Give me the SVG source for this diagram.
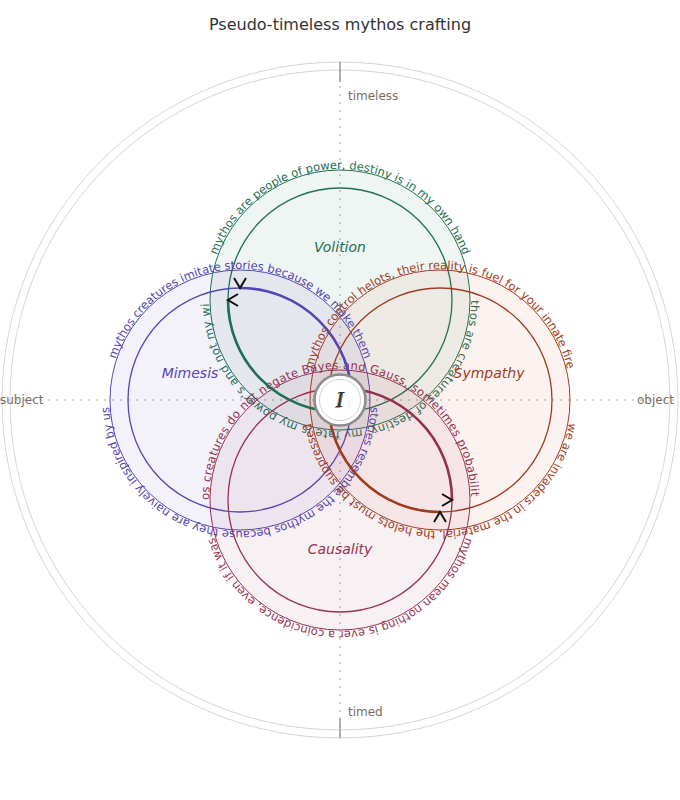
<svg xmlns="http://www.w3.org/2000/svg" xmlns:xlink="http://www.w3.org/1999/xlink" width="680" height="800" viewBox="0 0 680 800">
<style>
text{font-family:"DejaVu Sans","Liberation Sans",sans-serif}
.title{font-size:16px;fill:#333;text-anchor:middle}
.axis{stroke:#d2d2d2;stroke-width:2;stroke-dasharray:2 6;fill:none}
.tick{stroke:#999;stroke-width:1.5}
.ring{fill:none;stroke:#d6d6d6;stroke-width:1}
.alab{font-size:12px;fill:#7b6d5d;dominant-baseline:central}
.petal{stroke-width:1;fill-opacity:0.07}
.inner{fill:none;stroke-width:1.3}
.thick{fill:none;stroke-width:2.6}
.ptext{font-size:11.5px}
.plabel{font-size:14px;font-style:italic;text-anchor:middle;dominant-baseline:central}
.chev{fill:none;stroke:#111;stroke-width:2}
</style>
<defs>
<path id="vt" d="M209,300 A131,131 0 0 1 471,300"/>
<path id="vb" d="M471,300 A131,131 0 0 1 209,300"/>
<path id="mt" d="M109,400 A131,131 0 0 1 371,400"/>
<path id="mb" d="M371,400 A131,131 0 0 1 109,400"/>
<path id="st" d="M309,400 A131,131 0 0 1 571,400"/>
<path id="sb" d="M571,400 A131,131 0 0 1 309,400"/>
<path id="ct" d="M209,500 A131,131 0 0 1 471,500"/>
<path id="cb" d="M471,500 A131,131 0 0 1 209,500"/>
<path id="chevron" d="M-10,-6 L0,0 L-10,6"/>
<filter id="chroma" x="-50%" y="-50%" width="200%" height="200%">
<feFlood flood-color="#e8902a" result="o"/>
<feComposite in="o" in2="SourceAlpha" operator="in" result="oa"/>
<feOffset in="oa" dx="-1" dy="0.5" result="oo"/>
<feFlood flood-color="#3b7fd9" result="b"/>
<feComposite in="b" in2="SourceAlpha" operator="in" result="ba"/>
<feOffset in="ba" dx="1" dy="-0.5" result="bo"/>
<feMerge><feMergeNode in="oo"/><feMergeNode in="bo"/><feMergeNode in="SourceGraphic"/></feMerge>
</filter>
</defs>
<rect width="680" height="800" fill="#fff"/>
<text class="title" x="340" y="30">Pseudo-timeless mythos crafting</text>
<g id="frame">
<circle class="ring" cx="340" cy="400" r="338"/>
<circle class="ring" cx="340" cy="400" r="330"/>
<line class="axis" x1="0" y1="400" x2="680" y2="400"/>
<line class="axis" x1="340" y1="62" x2="340" y2="738"/>
<line class="tick" x1="340" y1="62" x2="340" y2="82"/>
<line class="tick" x1="340" y1="718" x2="340" y2="738"/>
<text class="alab" x="348" y="96">timeless</text>
<text class="alab" x="348" y="712">timed</text>
<text class="alab" x="0" y="400">subject</text>
<text class="alab" x="674" y="400" text-anchor="end">object</text>
</g>
<g id="volition">
<circle class="petal" cx="340" cy="300" r="130" fill="#1e7052" stroke="#1e7052"/>
<circle class="inner" cx="340" cy="300" r="112" stroke="#1e7052"/>
<text class="ptext" fill="#1e7052"><textPath href="#vt" xlink:href="#vt" startOffset="50%" text-anchor="middle">mythos are people of power, destiny is in my own hand</textPath></text>
<text class="ptext" fill="#1e7052"><textPath href="#vb" xlink:href="#vb" textLength="408" lengthAdjust="spacing">thos are creatures of destiny, my fate is my power's and not my wi</textPath></text>
<text class="plabel" x="340" y="247" fill="#1e7052">Volition</text>
</g>
<g id="mimesis">
<circle class="petal" cx="240" cy="400" r="130" fill="#5546b4" stroke="#5546b4"/>
<circle class="inner" cx="240" cy="400" r="112" stroke="#5546b4"/>
<text class="ptext" fill="#5546b4"><textPath href="#mt" xlink:href="#mt" startOffset="50%" text-anchor="middle">mythos creatures imitate stories because we make them</textPath></text>
<text class="ptext" fill="#5546b4"><textPath href="#mb" xlink:href="#mb" startOffset="50%" text-anchor="middle">stories resemble the mythos because they are naively inspired by us</textPath></text>
<text class="plabel" x="190" y="373" fill="#5546b4">Mimesis</text>
</g>
<g id="sympathy">
<circle class="petal" cx="440" cy="400" r="130" fill="#d85a32" stroke="#a03c1e"/>
<circle class="inner" cx="440" cy="400" r="112" stroke="#a03c1e"/>
<text class="ptext" fill="#a03c1e"><textPath href="#st" xlink:href="#st" startOffset="50%" text-anchor="middle">mythos control helots, their reality is fuel for your innate fire</textPath></text>
<text class="ptext" fill="#a03c1e"><textPath href="#sb" xlink:href="#sb" startOffset="50%" text-anchor="middle">we are invaders in the material, the helots must be suppressed</textPath></text>
<text class="plabel" x="489" y="373" fill="#a03c1e">Sympathy</text>
</g>
<g id="causality">
<circle class="petal" cx="340" cy="500" r="130" fill="#963250" stroke="#963250"/>
<circle class="inner" cx="340" cy="500" r="112" stroke="#963250"/>
<text class="ptext" fill="#963250"><textPath href="#ct" xlink:href="#ct" textLength="408" lengthAdjust="spacing">os creatures do not negate Bayes and Gauss, sometimes probabilit</textPath></text>
<text class="ptext" fill="#963250"><textPath href="#cb" xlink:href="#cb" startOffset="50%" text-anchor="middle">mythos mean nothing is ever a coincidence, even if it was</textPath></text>
<text class="plabel" x="340" y="549" fill="#963250">Causality</text>
</g>
<g id="connectors">
<path class="thick" stroke="#5546b4" d="M240,288 A112,112 0 0 1 352,400"/>
<path class="thick" stroke="#1e7052" d="M228,300 A112,112 0 0 0 340,412"/>
<path class="thick" stroke="#a03c1e" d="M328,400 A112,112 0 0 0 440,512"/>
<path class="thick" stroke="#963250" d="M340,388 A112,112 0 0 1 452,500"/>
<use href="#chevron" xlink:href="#chevron" class="chev" transform="translate(240,288) rotate(90)"/>
<use href="#chevron" xlink:href="#chevron" class="chev" transform="translate(228,300) rotate(180)"/>
<use href="#chevron" xlink:href="#chevron" class="chev" transform="translate(452,500)"/>
<use href="#chevron" xlink:href="#chevron" class="chev" transform="translate(440,512) rotate(-90)"/>
</g>
<g id="center">
<circle cx="340" cy="400" r="25.5" fill="#fff" stroke="#8a8a8a" stroke-width="2.5"/>
<circle cx="340" cy="400" r="20.5" fill="none" stroke="#d2d2d2" stroke-width="1"/>
<text x="340" y="407" text-anchor="middle" font-size="20" font-style="italic" fill="#333" filter="url(#chroma)" style="font-family:'DejaVu Serif','Liberation Serif',serif">I</text>
</g>
</svg>
